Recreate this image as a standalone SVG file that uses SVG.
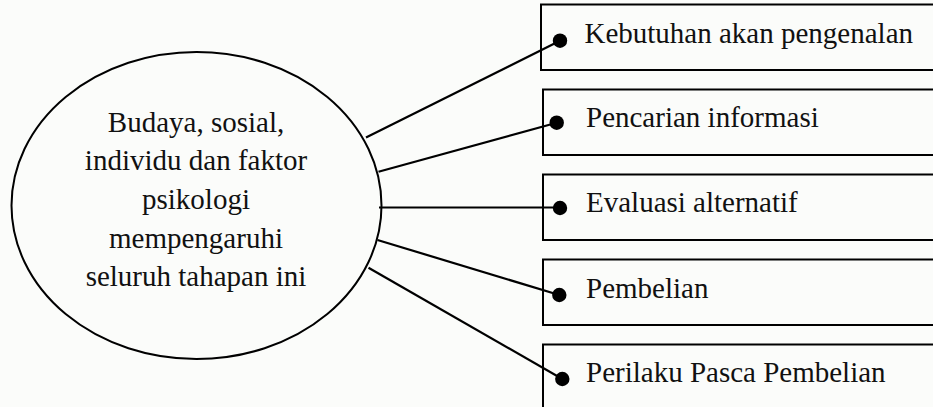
<svg xmlns="http://www.w3.org/2000/svg" width="933" height="407" viewBox="0 0 933 407">
  <style>
    .bg { fill: #fbfcfa; }
    .shape { fill: none; stroke: #000; stroke-width: 2; }
    .link { stroke: #000; stroke-width: 2.2; fill: none; }
    .dot { fill: #000; }
    .txt { font-family: "Liberation Serif", "Times New Roman", serif; font-size: 29px; fill: #111; }
    .mid { text-anchor: middle; }
  </style>
  <rect class="bg" x="0" y="0" width="933" height="407"/>

  <!-- central influence ellipse -->
  <g id="factors">
    <ellipse class="shape" cx="196.5" cy="205.5" rx="185" ry="153.5"/>
    <text class="txt mid" x="196" y="132">Budaya, sosial,</text>
    <text class="txt mid" x="196" y="170">individu dan faktor</text>
    <text class="txt mid" x="196" y="208.5">psikologi</text>
    <text class="txt mid" x="196" y="247.5">mempengaruhi</text>
    <text class="txt mid" x="196" y="286">seluruh tahapan ini</text>
  </g>

  <!-- stage boxes (open to the right edge) -->
  <g id="stage1">
    <rect class="shape" x="541" y="4.5" width="420" height="65.5"/>
    <text class="txt" x="584.5" y="42.5">Kebutuhan akan pengenalan</text>
  </g>
  <g id="stage2">
    <rect class="shape" x="543" y="89.5" width="420" height="65.5"/>
    <text class="txt" x="586" y="127">Pencarian informasi</text>
  </g>
  <g id="stage3">
    <rect class="shape" x="543" y="174.5" width="420" height="65.5"/>
    <text class="txt" x="586" y="212">Evaluasi alternatif</text>
  </g>
  <g id="stage4">
    <rect class="shape" x="543" y="259.5" width="420" height="65.5"/>
    <text class="txt" x="586" y="297.5">Pembelian</text>
  </g>
  <g id="stage5">
    <rect class="shape" x="543" y="344.5" width="420" height="80"/>
    <text class="txt" x="586" y="382">Perilaku Pasca Pembelian</text>
  </g>

  <!-- connectors from the ellipse to each stage -->
  <g id="connectors">
    <line class="link" x1="366" y1="137.5" x2="560" y2="40.7"/>
    <line class="link" x1="378.5" y1="171.7" x2="556.7" y2="122.7"/>
    <line class="link" x1="379" y1="207.5" x2="560" y2="207.5"/>
    <line class="link" x1="377.5" y1="240" x2="559.3" y2="295"/>
    <line class="link" x1="368.5" y1="267.7" x2="562.3" y2="379"/>
    <circle class="dot" cx="560" cy="40.7" r="7.2"/>
    <circle class="dot" cx="556.7" cy="122.7" r="7.2"/>
    <circle class="dot" cx="560" cy="208" r="7.2"/>
    <circle class="dot" cx="559.3" cy="295" r="7.2"/>
    <circle class="dot" cx="562.3" cy="379" r="7.2"/>
  </g>
</svg>
